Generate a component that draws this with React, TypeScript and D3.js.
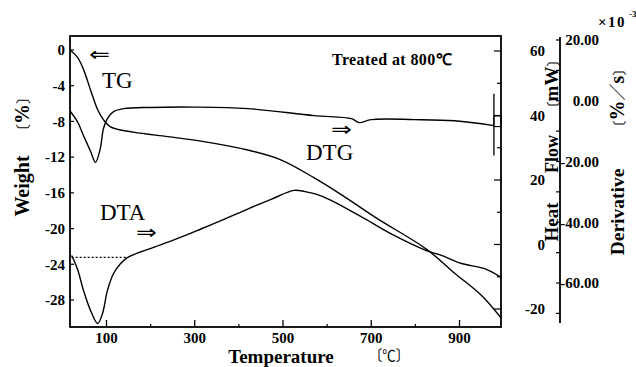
import React from "react";
import * as d3 from "d3";

const width = 636;
const height = 367;
const plot = { left: 70, right: 501, top: 36, bottom: 327 };
const derivAxisX = 560;

// axis ticks
const tempMajor = [100, 300, 500, 700, 900];
const tempMinor = [200, 400, 600, 800];
const weightTicks = [0, -4, -8, -12, -16, -20, -24, -28];
const heatTicks = [60, 40, 20, 0, -20];
const heatMinor = [50, 30, 10, -10];
const derivTicks = [20, 0, -20, -40, -60];
const derivMinor = [10, -10, -30, -50, -70];

// TG curve (weight %)
const tgTemp = [17, 34, 48, 64, 80, 93, 109, 161, 239, 314, 420, 495, 570, 632, 711, 825, 889, 950, 994];
const tgWeight = [0, -0.8, -2.2, -4.5, -6.7, -7.8, -8.6, -9.2, -9.7, -10.2, -11.2, -12.3, -14.3, -16.2, -18.8, -22.3, -25.0, -27.5, -30.0];

// DTG curve (x10^-3 %/s)
const dtgTemp = [17, 34, 48, 64, 75, 86, 93, 102, 116, 139, 200, 300, 420, 570, 655, 673, 700, 798, 889, 978];
const dtgValue = [-3.3, -6.9, -11.5, -16.7, -20.3, -15.7, -9.2, -5.9, -3.6, -2.6, -2.2, -2.1, -2.6, -4.9, -5.9, -7.2, -6.2, -6.2, -6.6, -8.2];

// DTA curve (heat flow mW)
const dtaTemp = [21, 34, 48, 64, 80, 91, 102, 116, 132, 148, 207, 260, 314, 370, 420, 473, 525, 550, 575, 609, 684, 752, 825, 859, 905, 957, 994];
const dtaHeat = [-3.4, -7.5, -14.3, -20.5, -24.5, -21.4, -14.3, -9.0, -5.9, -4.0, -0.9, 1.8, 4.8, 8.0, 11.0, 14.0, 16.8, 16.4, 15.6, 13.7, 8.1, 2.8, -1.9, -3.4, -5.9, -7.5, -10.2];

// DTA baseline (dotted)
const baseTemp = [21, 148];
const baseHeat = [-4.0, -4.0];

// DTG end marker
const markerTemp = 978;
const markerRange = [2.3, -18];
const markerBox = [-5, -8.5];

const serif = "'Liberation Serif', 'Times New Roman', serif";
const cjk = "'Noto Sans CJK JP', sans-serif";
const arrowFont = "'DejaVu Sans', sans-serif";

const App = () => {
  const x = d3.scaleLinear().domain([100, 900]).range([106.5, 459.5]);
  const yW = d3.scaleLinear().domain([0, -28]).range([50, 300]);
  const yH = d3.scaleLinear().domain([60, -20]).range([51, 309]);
  const yD = d3.scaleLinear().domain([20, -60]).range([40, 283]);

  const curve = d3.curveCatmullRom.alpha(0.5);
  const tgLine = d3.line<number>().x((d) => x(tgTemp[d])).y((d) => yW(tgWeight[d])).curve(curve);
  const dtgLine = d3.line<number>().x((d) => x(dtgTemp[d])).y((d) => yD(dtgValue[d])).curve(curve);
  const dtaLine = d3.line<number>().x((d) => x(dtaTemp[d])).y((d) => yH(dtaHeat[d])).curve(curve);
  const baseLine = d3.line<number>().x((d) => x(baseTemp[d])).y((d) => yH(baseHeat[d]));

  const idx = (arr: number[]) => arr.map((_, i) => i);
  const bold = { fontFamily: serif, fontWeight: 700, fontSize: 15 };

  return (
    <svg width={width} height={height} style={{ position: "absolute", left: 0, top: 0, background: "#fff" }}>
      <rect x={0} y={0} width={width} height={height} fill="#fff" />

      {/* frame */}
      <rect
        x={plot.left}
        y={plot.top}
        width={plot.right - plot.left}
        height={plot.bottom - plot.top}
        fill="none"
        stroke="#000"
        strokeWidth={1.8}
      />

      {/* bottom ticks */}
      {tempMajor.map((t) => (
        <g key={`tx${t}`}>
          <line x1={x(t)} x2={x(t)} y1={plot.bottom} y2={plot.bottom - 7} stroke="#000" strokeWidth={1.3} />
          <text x={x(t)} y={343} textAnchor="middle" {...bold}>
            {t}
          </text>
        </g>
      ))}
      {tempMinor.map((t) => (
        <line key={`tm${t}`} x1={x(t)} x2={x(t)} y1={plot.bottom} y2={plot.bottom - 3} stroke="#000" strokeWidth={1.2} />
      ))}

      {/* left ticks */}
      {weightTicks.map((w) => (
        <g key={`w${w}`}>
          <line x1={plot.left} x2={plot.left + 4} y1={yW(w)} y2={yW(w)} stroke="#000" strokeWidth={1.2} />
          <text x={65} y={yW(w)} dy="0.35em" textAnchor="end" {...bold}>
            {w === 0 ? "0" : `-${Math.abs(w)}`}
          </text>
        </g>
      ))}

      {/* right frame ticks (heat flow) */}
      {heatTicks.map((h) => (
        <line key={`hm${h}`} x1={plot.right} x2={plot.right - 7} y1={yH(h)} y2={yH(h)} stroke="#000" strokeWidth={1.2} />
      ))}
      {heatMinor.map((h) => (
        <line key={`hn${h}`} x1={plot.right} x2={plot.right - 4} y1={yH(h)} y2={yH(h)} stroke="#000" strokeWidth={1.2} />
      ))}

      {/* heat flow labels */}
      {heatTicks.map((h) => (
        <text key={`hl${h}`} x={545} y={yH(h)} dy="0.35em" textAnchor="end" {...bold}>
          {h < 0 ? `-${Math.abs(h)}` : h}
        </text>
      ))}

      {/* derivative axis */}
      <line x1={derivAxisX} x2={derivAxisX} y1={37} y2={323} stroke="#000" strokeWidth={1.8} />
      {[...derivTicks, ...derivMinor].map((d) => (
        <line key={`dt${d}`} x1={derivAxisX} x2={derivAxisX - 4} y1={yD(d)} y2={yD(d)} stroke="#000" strokeWidth={1.2} />
      ))}
      {derivTicks.map((d) => (
        <text key={`dl${d}`} x={599} y={yD(d)} dy="0.35em" textAnchor="end" {...bold}>
          {d < 0 ? `-${Math.abs(d).toFixed(2)}` : d.toFixed(2)}
        </text>
      ))}
      <text x={598} y={27} {...bold} letterSpacing={1.5}>
        ×10
      </text>
      <text x={629} y={17} fontFamily={serif} fontWeight={700} fontSize={9}>
        -3
      </text>

      {/* curves */}
      <path d={tgLine(idx(tgTemp)) ?? ""} fill="none" stroke="#000" strokeWidth={1.4} />
      <path d={dtgLine(idx(dtgTemp)) ?? ""} fill="none" stroke="#000" strokeWidth={1.4} />
      <path d={dtaLine(idx(dtaTemp)) ?? ""} fill="none" stroke="#000" strokeWidth={1.4} />
      <path d={baseLine([0, 1]) ?? ""} fill="none" stroke="#000" strokeWidth={1.2} strokeDasharray="2,2" />

      {/* DTG end marker */}
      <line x1={x(markerTemp)} x2={x(markerTemp)} y1={yD(markerRange[0])} y2={yD(markerRange[1])} stroke="#000" strokeWidth={1.3} />
      <rect
        x={x(markerTemp)}
        y={yD(markerBox[0])}
        width={plot.right - x(markerTemp)}
        height={yD(markerBox[1]) - yD(markerBox[0])}
        fill="none"
        stroke="#000"
        strokeWidth={1.1}
      />

      {/* annotations */}
      <text x={332} y={65} fontFamily={serif} fontWeight={700} fontSize={16} letterSpacing={0.4}>
        Treated at 800℃
      </text>
      <text x={89} y={61} fontFamily={arrowFont} fontSize={20} transform="translate(-22.25,0) scale(1.25,1)">
        ⇐
      </text>
      <text x={102} y={88} fontFamily={serif} fontSize={23}>
        TG
      </text>
      <text x={331} y={136} fontFamily={arrowFont} fontSize={20} transform="translate(-82.75,0) scale(1.25,1)">
        ⇒
      </text>
      <text x={306} y={160} fontFamily={serif} fontSize={23}>
        DTG
      </text>
      <text x={100} y={220} fontFamily={serif} fontSize={23}>
        DTA
      </text>
      <text x={136} y={239} fontFamily={arrowFont} fontSize={20} transform="translate(-34,0) scale(1.25,1)">
        ⇒
      </text>

      {/* axis titles */}
      <text x={281} y={363} textAnchor="middle" fontFamily={serif} fontWeight={700} fontSize={19}>
        Temperature
      </text>
      <text x={389} y={361} textAnchor="middle" fontFamily={cjk} fontSize={15} textLength={40} lengthAdjust="spacingAndGlyphs">
        〔℃〕
      </text>

      <g transform="translate(29,186) rotate(-90)">
        <text textAnchor="middle" fontFamily={serif} fontWeight={700} fontSize={20}>
          Weight
        </text>
      </g>
      <g transform="translate(29,114) rotate(-90)">
        <text textAnchor="middle" fontFamily={cjk} fontSize={15}>
          〔<tspan fontFamily={serif} fontWeight={700} fontSize={20}>%</tspan>〕
        </text>
      </g>

      <g transform="translate(558,222) rotate(-90)">
        <text textAnchor="middle" fontFamily={serif} fontWeight={700} fontSize={19}>
          Heat
        </text>
      </g>
      <g transform="translate(558,154) rotate(-90)">
        <text textAnchor="middle" fontFamily={serif} fontWeight={700} fontSize={18}>
          Flow
        </text>
      </g>
      <g transform="translate(558,84) rotate(-90)">
        <text textAnchor="middle" fontFamily={cjk} fontSize={14}>
          〔<tspan fontFamily={serif} fontWeight={700} fontSize={19}>mW</tspan>〕
        </text>
      </g>

      <g transform="translate(624,212) rotate(-90)">
        <text textAnchor="middle" fontFamily={serif} fontWeight={700} fontSize={19.5}>
          Derivative
        </text>
      </g>
      <g transform="translate(624,98) rotate(-90)">
        <text textAnchor="middle" fontFamily={cjk} fontSize={14}>
          〔<tspan fontFamily={serif} fontWeight={700} fontSize={20}>%</tspan>
          <tspan fontSize={17}>／</tspan>
          <tspan fontFamily={serif} fontWeight={700} fontSize={20}>s</tspan>〕
        </text>
      </g>
    </svg>
  );
};

export default App;
